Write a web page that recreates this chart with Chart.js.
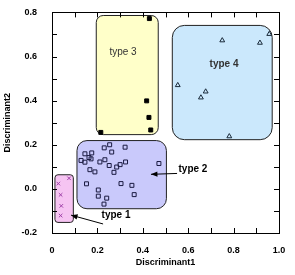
<!DOCTYPE html>
<html>
<head>
<meta charset="utf-8">
<script src="https://cdn.jsdelivr.net/npm/chart.js@4.4.0/dist/chart.umd.min.js"></script>
<style>
  html, body { margin: 0; padding: 0; background: #fff; }
</style>
</head>
<body>
<canvas id="chart" width="295" height="275"></canvas>
<script>
// group values
const type1X = [0.075, 0.028, 0.038, 0.041, 0.038];
const type1Y = [0.048, 0.024, -0.027, -0.077, -0.121];

const type2X = [0.230, 0.254, 0.322, 0.263, 0.145, 0.175, 0.163, 0.172, 0.128, 0.145,
                0.211, 0.233, 0.252, 0.285, 0.300, 0.324, 0.167, 0.189, 0.273, 0.471,
                0.152, 0.304, 0.352, 0.204, 0.204, 0.362, 0.241, 0.229];
const type2Y = [0.186, 0.200, 0.189, 0.167, 0.159, 0.163, 0.142, 0.136, 0.129, 0.121,
                0.122, 0.132, 0.106, 0.099, 0.110, 0.122, 0.087, 0.077, 0.075, 0.115,
                0.023, 0.024, 0.016, -0.005, -0.033, -0.026, -0.042, -0.069];

const type3X = [0.429, 0.417, 0.427, 0.435, 0.215];
const type3Y = [0.772, 0.399, 0.324, 0.267, 0.256];

const type4X = [0.957, 0.750, 0.916, 0.554, 0.677, 0.656, 0.781];
const type4Y = [0.702, 0.673, 0.662, 0.470, 0.441, 0.414, 0.238];

// group regions in data units: [xmin, xmax, ymin, ymax]
const regionNames = ['type 1', 'type 2', 'type 3', 'type 4'];
const regionBounds = [
  [0.013, 0.094, -0.152, 0.064],
  [0.110, 0.504, -0.090, 0.219],
  [0.195, 0.468, 0.246, 0.786],
  [0.530, 0.970, 0.223, 0.741]
];

const xTickLabels = ['0', '0.2', '0.4', '0.6', '0.8', '1.0'];
const yTickLabels = ['-0.2', '0.0', '0.2', '0.4', '0.6', '0.8'];

const toPoints = (xs, ys) => xs.map((v, i) => ({ x: v, y: ys[i] }));

const regionStyle = [
  { fill: '#f6c4f2', radius: 3 },
  { fill: '#c9c9fb', radius: 10 },
  { fill: '#ffffc9', radius: 7 },
  { fill: '#cbe8fc', radius: 12 }
];

// labels and arrows (data units)
const notes = [
  { text: 'type 3', x: 0.313, y: 0.620, font: '10px "Liberation Sans"', color: '#333' },
  { text: 'type 4', x: 0.758, y: 0.566, font: 'bold 10px "Liberation Sans"', color: '#333' },
  { text: 'type 2', x: 0.621, y: 0.088, font: 'bold 10px "Liberation Sans"', color: '#000' },
  { text: 'type 1', x: 0.282, y: -0.119, font: 'bold 10px "Liberation Sans"', color: '#000' }
];
const arrows = [
  { from: [0.551, 0.070], to: [0.436, 0.066] },
  { from: [0.225, -0.159], to: [0.084, -0.119] }
];

const decor = {
  id: 'decor',
  beforeDatasetsDraw(chart) {
    const { ctx, scales: { x, y } } = chart;
    regionBounds.forEach((b, i) => {
      const l = x.getPixelForValue(b[0]), r = x.getPixelForValue(b[1]);
      const t = y.getPixelForValue(b[3]), btm = y.getPixelForValue(b[2]);
      ctx.save();
      ctx.beginPath();
      ctx.roundRect(l, t, r - l, btm - t, regionStyle[i].radius);
      ctx.fillStyle = regionStyle[i].fill;
      ctx.fill();
      ctx.strokeStyle = '#222';
      ctx.lineWidth = 1;
      ctx.stroke();
      ctx.restore();
    });
  },
  afterDatasetsDraw(chart) {
    const { ctx, chartArea: a, scales: { x, y } } = chart;
    ctx.save();
    // notes
    ctx.textAlign = 'center';
    ctx.textBaseline = 'middle';
    notes.forEach(n => {
      ctx.font = n.font;
      ctx.fillStyle = n.color;
      ctx.fillText(n.text, x.getPixelForValue(n.x), y.getPixelForValue(n.y));
    });
    // arrows
    arrows.forEach(ar => {
      const x1 = x.getPixelForValue(ar.from[0]), y1 = y.getPixelForValue(ar.from[1]);
      const x2 = x.getPixelForValue(ar.to[0]), y2 = y.getPixelForValue(ar.to[1]);
      const ang = Math.atan2(y2 - y1, x2 - x1);
      ctx.strokeStyle = '#000';
      ctx.lineWidth = 1;
      ctx.beginPath();
      ctx.moveTo(x1, y1);
      ctx.lineTo(x2, y2);
      ctx.stroke();
      ctx.beginPath();
      ctx.moveTo(x2, y2);
      ctx.lineTo(x2 - 7 * Math.cos(ang - 0.4), y2 - 7 * Math.sin(ang - 0.4));
      ctx.lineTo(x2 - 7 * Math.cos(ang + 0.4), y2 - 7 * Math.sin(ang + 0.4));
      ctx.closePath();
      ctx.fillStyle = '#000';
      ctx.fill();
    });
    // frame with inward ticks
    ctx.strokeStyle = '#000';
    ctx.lineWidth = 1;
    ctx.strokeRect(Math.round(a.left) + 0.5, Math.round(a.top) + 0.5,
                   Math.round(a.right - a.left), Math.round(a.bottom - a.top));
    ctx.beginPath();
    for (let i = 1; i < 10; i++) {
      const px = Math.round(x.getPixelForValue(x.min + i * 0.1)) + 0.5;
      ctx.moveTo(px, a.bottom); ctx.lineTo(px, a.bottom - 5);
      ctx.moveTo(px, a.top); ctx.lineTo(px, a.top + 5);
      const py = Math.round(y.getPixelForValue(y.min + i * 0.1)) + 0.5;
      ctx.moveTo(a.left, py); ctx.lineTo(a.left + 5, py);
      ctx.moveTo(a.right, py); ctx.lineTo(a.right - 5, py);
    }
    ctx.stroke();
    ctx.restore();
  }
};

const tickFont = { family: '"Liberation Sans", Arial', size: 9, weight: 'bold' };

new Chart(document.getElementById('chart'), {
  type: 'scatter',
  data: {
    datasets: [
      { label: 'type 1', data: toPoints(type1X, type1Y), pointStyle: 'crossRot', radius: 2.5,
        borderColor: '#a040a8', borderWidth: 1 },
      { label: 'type 2', data: toPoints(type2X, type2Y), pointStyle: 'rect', radius: 2.8,
        borderColor: '#1a1a40', backgroundColor: 'rgba(0,0,0,0)', borderWidth: 1 },
      { label: 'type 3', data: toPoints(type3X, type3Y), pointStyle: 'rect', radius: 2.8,
        borderColor: '#000', backgroundColor: '#000', borderWidth: 1 },
      { label: 'type 4', data: toPoints(type4X, type4Y), pointStyle: 'triangle', radius: 2.8,
        borderColor: '#1a2a3a', backgroundColor: 'rgba(0,0,0,0)', borderWidth: 1 }
    ]
  },
  options: {
    responsive: false,
    animation: false,
    layout: { padding: { left: 0, right: 16, top: 11, bottom: 0 } },
    plugins: { legend: { display: false }, tooltip: { enabled: false } },
    scales: {
      x: {
        type: 'linear', min: 0, max: 1,
        grid: { display: false }, border: { display: false },
        ticks: { stepSize: 0.2, autoSkip: false, maxRotation: 0, padding: 4, color: '#000', font: tickFont,
                 callback: (v, i) => xTickLabels[i] },
        title: { display: true, text: 'Discriminant1', color: '#000', font: tickFont,
                 padding: { top: 0, bottom: 7 } },
        afterFit: s => { s.height = 42; }
      },
      y: {
        type: 'linear', min: -0.2, max: 0.8,
        grid: { display: false }, border: { display: false },
        ticks: { stepSize: 0.2, autoSkip: false, padding: 7, color: '#000', font: tickFont,
                 callback: (v, i) => yTickLabels[i] },
        title: { display: true, text: 'Discriminant2', color: '#000', font: tickFont,
                 padding: { top: 2, bottom: 0 } },
        afterFit: s => { s.width = 52; }
      }
    }
  },
  plugins: [decor]
});
</script>
</body>
</html>
